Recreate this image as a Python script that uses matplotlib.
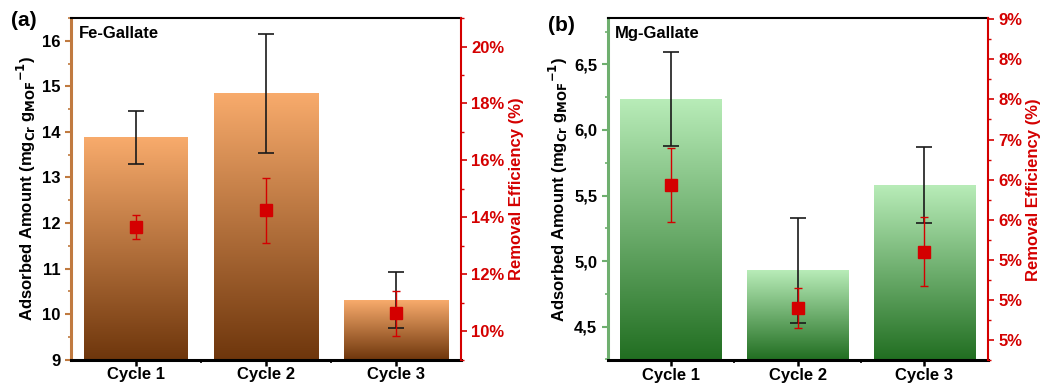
import numpy as np
import matplotlib
matplotlib.use('Agg')
import matplotlib.pyplot as plt
from matplotlib.colors import LinearSegmentedColormap
from matplotlib.ticker import FuncFormatter, FixedLocator, MultipleLocator, AutoMinorLocator

plt.rcParams['font.family'] = ['Liberation Sans', 'DejaVu Sans']
plt.rcParams['font.weight'] = 'bold'
plt.rcParams['axes.labelweight'] = 'bold'

# ###########################################################################
# Data
cycles = ['Cycle 1', 'Cycle 2', 'Cycle 3']

fe_amount = [13.88, 14.85, 10.31]
fe_amount_err = [0.58, 1.31, 0.62]
fe_eff = [13.65, 14.25, 10.62]
fe_eff_err = [0.43, 1.14, 0.78]

mg_amount = [6.236, 4.925, 5.58]
mg_amount_err = [0.362, 0.40, 0.293]
mg_eff = [6.93, 5.40, 6.10]
mg_eff_err = [0.46, 0.25, 0.43]

# right-axis tick labels of panel (b), as printed in the figure
mg_eff_ticks = [9.0, 8.5, 8.0, 7.5, 7.0, 6.5, 6.0, 5.5, 5.0]
mg_eff_ticklabels = ['9%', '8%', '8%', '7%', '6%', '6%', '5%', '5%', '5%']

red = '#D40000'
fs = 12


def gradient_bars(ax, x, vals, ctop, cbot):
    ymin = ax.get_ylim()[0]
    cmap = LinearSegmentedColormap.from_list('g', [cbot, ctop])
    bars = ax.bar(x, np.array(vals) - ymin, bottom=ymin, width=0.8, color='none', zorder=1)
    grad = np.linspace(0, 1, 256).reshape(-1, 1)
    for b in bars:
        x0 = b.get_x()
        ax.imshow(grad, extent=[x0, x0 + b.get_width(), ymin, ymin + b.get_height()],
                  origin='lower', cmap=cmap, aspect='auto', zorder=1)
    ax.set_xlim(0.5, 3.5)


def style_axes(ax, ax2, spine_col):
    ax.spines['left'].set_color(spine_col)
    ax.spines['left'].set_linewidth(2.2)
    ax.spines['bottom'].set_linewidth(2.2)
    ax.spines['top'].set_linewidth(1.5)
    ax.spines['right'].set_visible(False)
    for s in ['left', 'top', 'bottom']:
        ax2.spines[s].set_visible(False)
    ax2.spines['right'].set_color(red)
    ax2.spines['right'].set_linewidth(1.5)
    ax.tick_params(axis='y', which='major', length=4, width=1.5, color=spine_col, labelsize=fs)
    ax.tick_params(axis='y', which='minor', length=2.5, width=1.2, color=spine_col)
    ax.tick_params(axis='x', which='major', length=4, width=1.8, labelsize=fs, pad=1.5)
    ax.xaxis.set_minor_locator(FixedLocator([1.5, 2.5]))
    ax.tick_params(axis='x', which='minor', length=2.5, width=1.2)
    ax2.tick_params(axis='y', which='major', length=4, width=1.2, colors=red, labelsize=fs)
    ax2.tick_params(axis='y', which='minor', length=2.5, width=1.0, colors=red)
    ax.set_ylabel(r'Adsorbed Amount (mg$_{\mathbf{Cr}}$ g$_{\mathbf{MOF}}$$^{\mathbf{-1}}$)',
                  fontsize=fs, labelpad=3)
    ax2.set_ylabel('Removal Efficiency (%)', color=red, fontsize=fs, labelpad=3)
    for lab in ax.get_xticklabels() + ax.get_yticklabels() + ax2.get_yticklabels():
        lab.set_fontweight('bold')


fig = plt.figure(figsize=(10.4, 3.85), dpi=100)
x = np.arange(1, 4)

# ########################## (a) Fe-Gallate
ax = fig.add_axes([0.0683, 0.066, 0.375, 0.887])
ax.set_ylim(9, 16.5)
gradient_bars(ax, x, fe_amount, '#F8AB6C', '#6E360C')
ax.errorbar(x, fe_amount, yerr=fe_amount_err, fmt='none', ecolor='#1a1a1a', elinewidth=1.2,
            capsize=6, capthick=1.2, zorder=3)
ax.set_xticks(x)
ax.set_xticklabels(cycles)
ax.yaxis.set_major_locator(MultipleLocator(1))
ax.yaxis.set_minor_locator(MultipleLocator(0.5))
ax2 = ax.twinx()
ax2.set_ylim(9, 21)
ax2.errorbar(x, fe_eff, yerr=fe_eff_err, fmt='s', color=red, ms=8, elinewidth=1.0,
             capsize=3, capthick=1.0)
ax2.yaxis.set_major_locator(FixedLocator([10, 12, 14, 16, 18, 20]))
ax2.yaxis.set_minor_locator(MultipleLocator(1))
ax2.yaxis.set_major_formatter(FuncFormatter(lambda v, p: f'{v:.0f}%'))
style_axes(ax, ax2, '#C07A40')
ax.text(0.02, 0.955, 'Fe-Gallate', transform=ax.transAxes, fontsize=fs, fontweight='bold', va='center')
fig.text(0.011, 0.948, '(a)', fontsize=15, fontweight='bold', va='center')

# ########################## (b) Mg-Gallate
bx = fig.add_axes([0.5843, 0.065, 0.3654, 0.887])
bx.set_ylim(4.246, 6.85)
gradient_bars(bx, x, mg_amount, '#B8ECB8', '#216E21')
bx.errorbar(x, mg_amount, yerr=mg_amount_err, fmt='none', ecolor='#1a1a1a', elinewidth=1.2,
            capsize=6, capthick=1.2, zorder=3)
bx.set_xticks(x)
bx.set_xticklabels(cycles)
bx.yaxis.set_major_locator(MultipleLocator(0.5))
bx.yaxis.set_minor_locator(MultipleLocator(0.25))
bx.yaxis.set_major_formatter(FuncFormatter(lambda v, p: f'{v:.1f}'.replace('.', ',')))
bx2 = bx.twinx()
bx2.set_ylim(4.75, 9.01)
bx2.errorbar(x, mg_eff, yerr=mg_eff_err, fmt='s', color=red, ms=8, elinewidth=1.0,
             capsize=3, capthick=1.0)
bx2.set_yticks(mg_eff_ticks)
bx2.set_yticklabels(mg_eff_ticklabels)
bx2.yaxis.set_minor_locator(AutoMinorLocator(2))
style_axes(bx, bx2, '#6FAF6F')
bx.text(0.02, 0.955, 'Mg-Gallate', transform=bx.transAxes, fontsize=fs, fontweight='bold', va='center')
fig.text(0.527, 0.935, '(b)', fontsize=15, fontweight='bold', va='center')

fig.savefig('out.png', dpi=100)
